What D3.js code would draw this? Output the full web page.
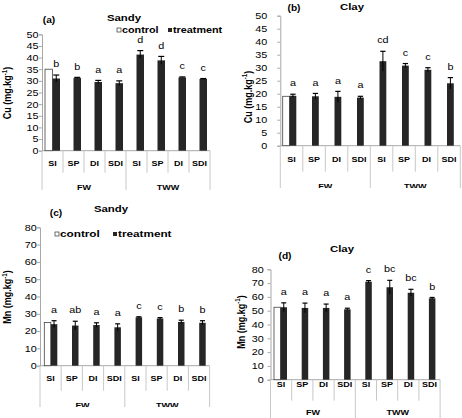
<!DOCTYPE html>
<meta charset="utf-8">
<style>
body { margin: 0; background: #fff; }
svg { display: block; font-family: "Liberation Sans", Arial, sans-serif; }
</style>
<body>
<script src="https://d3js.org/d3.v7.min.js"></script>
<script>

var width = 462,
    height = 418,
    sx = 1.2; // the figure is a little stretched sideways

var categories = ["SI", "SP", "DI", "SDI", "SI", "SP", "DI", "SDI"],
    groups = ["FW", "TWW"];

var cuTicks = [0, 5, 10, 15, 20, 25, 30, 35, 40, 45, 50],
    mnTicks = [0, 10, 20, 30, 40, 50, 60, 70, 80];

// Cu, sandy soil
var cuSandyControl = [35],
    cuSandyTreat = [31, 31.2, 29.5, 29, 41.3, 38.8, 31.5, 30.8],
    cuSandyErr = [1.5, 0.3, 0.7, 1, 1.7, 1.7, 0.2, 0.2],
    cuSandyLetters = ["b", "b", "a", "a", "d", "d", "c", "c"];

// Cu, clay soil
var cuClayControl = [19],
    cuClayTreat = [19.2, 19, 18.8, 18.5, 32.5, 30.8, 29.2, 24],
    cuClayErr = [0.6, 1.1, 2.1, 0.5, 3.8, 0.8, 0.8, 2.2],
    cuClayLetters = ["a", "a", "a", "a", "cd", "c", "c", "b"];

// Mn, sandy soil
var mnSandyControl = [25],
    mnSandyTreat = [24, 23.2, 23.5, 22.2, 28, 27.3, 25.3, 24.8],
    mnSandyErr = [2, 2.5, 1.3, 2, 0.3, 0.5, 1, 1.2],
    mnSandyLetters = ["a", "ab", "a", "a", "c", "c", "b", "b"];

// Mn, clay soil
var mnClayControl = [52.5],
    mnClayTreat = [52.5, 52, 52, 51, 71, 67, 63, 59],
    mnClayErr = [3.2, 3.5, 2.8, 0.8, 0.8, 5, 2.5, 0.6],
    mnClayLetters = ["a", "a", "a", "a", "c", "bc", "bc", "b"];

var panels = [
  {tag: "(a)", title: "Sandy", elem: "Cu", ticks: cuTicks, control: cuSandyControl, treat: cuSandyTreat, err: cuSandyErr, letters: cuSandyLetters,
   x0: 42, band: 21, y0: 150.7, yTop: 34.3, barOff: 3, barW: 7.5, tickGap: 3.4, catY: 163, catTick: 22, grpY: 187.5,
   clip: [0, 0, 229, 190], tagPos: [49, 20], titlePos: [124, 18], legend: {y: 30, cx: 117, tx: 168, size: 9}, ylab: [7.5, 93]},
  {tag: "(b)", title: "Clay", elem: "Cu", ticks: cuTicks, control: cuClayControl, treat: cuClayTreat, err: cuClayErr, letters: cuClayLetters,
   x0: 280.3, band: 22.5, y0: 145.7, yTop: 15.7, barOff: 2.4, barW: 6.8, tickGap: 13, catY: 159, catTick: 26, grpY: 186.5,
   clip: [231, 0, 231, 188], tagPos: [294, 8.5], titlePos: [352, 7], legend: null, ylab: [248, 97]},
  {tag: "(c)", title: "Sandy", elem: "Mn", ticks: mnTicks, control: mnSandyControl, treat: mnSandyTreat, err: mnSandyErr, letters: mnSandyLetters,
   x0: 40, band: 21.2, y0: 365.7, yTop: 227.3, barOff: 4.3, barW: 6.5, tickGap: 3.3, catY: 378.3, catTick: 25, grpY: 405,
   clip: [0, 192, 229, 215], tagPos: [56, 213.5], titlePos: [111, 209], legend: {y: 234, cx: 55, tx: 113, size: 9.8}, ylab: [7.5, 297]},
  {tag: "(d)", title: "Clay", elem: "Mn", ticks: mnTicks, control: mnClayControl, treat: mnClayTreat, err: mnClayErr, letters: mnClayLetters,
   x0: 270.5, band: 21.2, y0: 379.7, yTop: 269.3, barOff: 3.5, barW: 6.5, tickGap: 6.7, catY: 384, catTick: 21, grpY: 412,
   clip: [231, 188, 231, 230], tagPos: [285, 255.7], titlePos: [342, 249], legend: null, ylab: [241, 322]}
];

var svg = d3.select("body").append("svg")
    .attr("width", width)
    .attr("height", height);

svg.append("rect").attr("width", width).attr("height", height).attr("fill", "#fff");

// text stretched sideways like the original picture
function label(g, x, y, s, size, weight, anchor) {
  return g.append("text")
      .attr("transform", "translate(" + x + "," + y + ")scale(" + sx + ",1)")
      .attr("font-size", size)
      .attr("font-weight", weight || "normal")
      .attr("text-anchor", anchor || "middle")
      .attr("dy", "0.35em")
      .attr("fill", "#000")
      .text(s);
}

panels.forEach(function(p, k) {
  svg.append("clipPath").attr("id", "clip" + k)
    .append("rect")
      .attr("x", p.clip[0]).attr("y", p.clip[1])
      .attr("width", p.clip[2]).attr("height", p.clip[3]);

  var g = svg.append("g").attr("clip-path", "url(#clip" + k + ")");

  var x = d3.scaleBand()
      .domain(d3.range(categories.length))
      .range([p.x0, p.x0 + p.band * categories.length]);

  var y = d3.scaleLinear()
      .domain([0, p.ticks[p.ticks.length - 1]])
      .range([p.y0, p.yTop]);

  var x1 = x.range()[1];

  // y axis
  var ya = g.append("g")
      .attr("transform", "translate(" + p.x0 + ",0)")
      .call(d3.axisLeft(y).tickValues(p.ticks).tickSize(3).tickPadding(0));
  ya.select(".domain").attr("stroke", "#a8a8a8");
  ya.selectAll(".tick line").attr("stroke", "#a8a8a8");
  ya.selectAll("text")
      .attr("x", -p.tickGap / sx)
      .attr("transform", "scale(" + sx + ",1)")
      .attr("font-size", 9)
      .attr("font-family", "'Liberation Sans', Arial, sans-serif")
      .attr("fill", "#000");

  // category boxes under the plot
  g.append("line")
      .attr("x1", p.x0).attr("x2", x1)
      .attr("y1", p.y0).attr("y2", p.y0)
      .attr("stroke", "#a8a8a8");

  g.selectAll(".sep")
    .data(d3.range(categories.length + 1))
    .enter().append("line")
      .attr("x1", function(i) { return p.x0 + i * p.band; })
      .attr("x2", function(i) { return p.x0 + i * p.band; })
      .attr("y1", p.y0)
      .attr("y2", function(i) { return i % 4 === 0 ? height : p.y0 + p.catTick; })
      .attr("stroke", "#c8c8c8");

  categories.forEach(function(c, i) {
    label(g, x(i) + p.band / 2, p.catY, c, 7.5, "bold");
  });
  groups.forEach(function(gr, j) {
    label(g, p.x0 + (j * 4 + 2) * p.band, p.grpY, gr, 7.5, "bold");
  });

  // control bar (first category only)
  g.selectAll(".control")
    .data(p.control)
    .enter().append("rect")
      .attr("x", function(d, i) { return x(i) + p.barOff; })
      .attr("y", function(d) { return y(d); })
      .attr("width", p.barW)
      .attr("height", function(d) { return p.y0 - y(d); })
      .attr("fill", "#fff")
      .attr("stroke", "#444")
      .attr("stroke-width", 0.8);

  // treatment bars
  g.selectAll(".treat")
    .data(p.treat)
    .enter().append("rect")
      .attr("x", function(d, i) { return x(i) + p.barOff + p.barW; })
      .attr("y", function(d) { return y(d); })
      .attr("width", p.barW)
      .attr("height", function(d) { return p.y0 - y(d); })
      .attr("fill", "#262626");

  // error bars
  p.treat.forEach(function(v, i) {
    var cx = x(i) + p.barOff + p.barW * 1.5,
        e = p.err[i],
        hw = (p.barW - 1.5) / 2;
    g.append("line")
        .attr("x1", cx).attr("x2", cx)
        .attr("y1", y(v - e)).attr("y2", y(v + e))
        .attr("stroke", "#000").attr("stroke-width", 1);
    g.append("line")
        .attr("x1", cx - hw).attr("x2", cx + hw)
        .attr("y1", y(v + e)).attr("y2", y(v + e))
        .attr("stroke", "#000").attr("stroke-width", 1.2);
    label(g, cx, y(v + e) - 11, p.letters[i], 9, "normal");
  });

  // titles
  label(g, p.tagPos[0], p.tagPos[1], p.tag, 8.5, "bold");
  label(g, p.titlePos[0], p.titlePos[1], p.title, 9.5, "bold");

  // legend
  if (p.legend) {
    var L = p.legend, s = 4;
    g.append("rect")
        .attr("x", L.cx).attr("y", L.y - s / 2)
        .attr("width", s).attr("height", s)
        .attr("fill", "#fff").attr("stroke", "#333").attr("stroke-width", 0.7);
    label(g, L.cx + s + 1, L.y, "control", L.size, "bold", "start");
    g.append("rect")
        .attr("x", L.tx).attr("y", L.y - s / 2)
        .attr("width", s).attr("height", s)
        .attr("fill", "#262626");
    label(g, L.tx + s + 1, L.y, "treatment", L.size, "bold", "start");
  }

  // y axis title
  var yl = g.append("text")
      .attr("transform", "translate(" + p.ylab[0] + "," + p.ylab[1] + ")rotate(-90)scale(1," + sx + ")")
      .attr("font-size", 9)
      .attr("font-weight", "bold")
      .attr("text-anchor", "middle")
      .attr("dy", "0.35em")
      .attr("fill", "#000");
  yl.append("tspan").text(p.elem + " (mg.kg");
  yl.append("tspan").attr("font-size", 6).attr("dy", "-0.6em").text("-1");
  yl.append("tspan").attr("dy", "0.4em").text(")");
});

</script>
